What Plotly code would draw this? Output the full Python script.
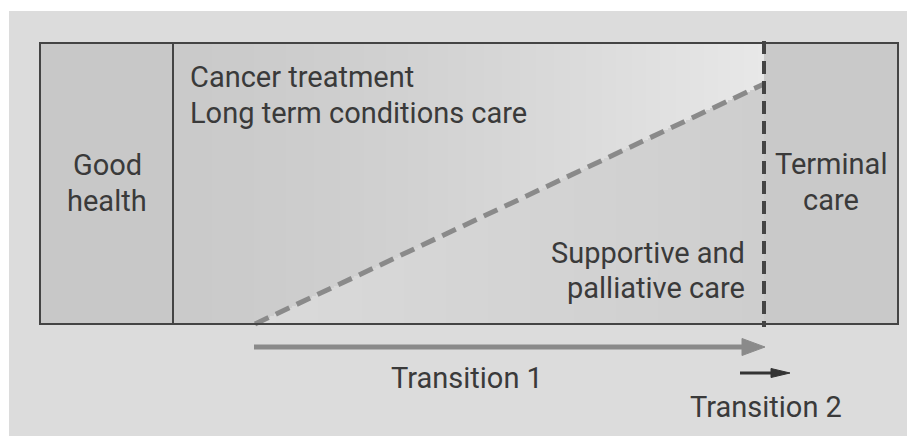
import numpy as np
import plotly.graph_objects as go

# ---- diagram content (timeline units on x, depth units on y) ----
stage_labels = ["Good", "health", "Cancer treatment", "Long term conditions care",
                "Supportive and", "palliative care", "Terminal", "care"]
stage_edges = [40, 173, 764, 898]          # left box edge, good-health divider, transition-2 line, right edge
box_top, box_bottom = 43, 324
diag_x = [255, 764]                         # supportive/palliative care boundary
diag_y = [324, 84]
t1_x = [254, 765]                           # Transition 1 arrow span
t2_x = [740, 790]                           # Transition 2 arrow span
transition_labels = ["Transition 1", "Transition 2"]

# ---- grey levels (style) ----
upper_left, upper_right = 202, 232
lower_left, lower_right = 218, 206

fig = go.Figure()

# background panel
fig.add_shape(type="rect", x0=9, x1=916, y0=11, y1=437, line_width=0,
              fillcolor="#dcdcdc", layer="below")
# good health + terminal care panels
fig.add_shape(type="rect", x0=stage_edges[0], x1=stage_edges[1], y0=box_top, y1=box_bottom,
              line_width=0, fillcolor="#c8c8c8", layer="below")
fig.add_shape(type="rect", x0=stage_edges[2], x1=stage_edges[3], y0=box_top, y1=box_bottom,
              line_width=0, fillcolor="#c9c9c9", layer="below")

# middle region gradients via heatmap
xs = np.arange(stage_edges[1], stage_edges[2] + 1, 2.0)
ys = np.arange(box_top, box_bottom + 1, 2.0)
X, Y = np.meshgrid(xs, ys)
frac = (X - stage_edges[1]) / (stage_edges[2] - stage_edges[1])
upper = upper_left + (upper_right - upper_left) * frac ** 1.5
dfrac = np.clip((X - diag_x[0]) / (diag_x[1] - diag_x[0]), 0, 1)
lower = lower_left + (lower_right - lower_left) * dfrac
line_y = diag_y[0] + (diag_y[1] - diag_y[0]) * (X - diag_x[0]) / (diag_x[1] - diag_x[0])
below = (X >= diag_x[0]) & (Y >= line_y)
Z = np.where(below, lower, upper)
fig.add_trace(go.Heatmap(x=xs, y=ys, z=Z, zmin=0, zmax=255,
                         colorscale=[[0, "rgb(0,0,0)"], [1, "rgb(255,255,255)"]],
                         showscale=False, hoverinfo="skip", zsmooth=False))

# box outline and divider
fig.add_shape(type="rect", x0=stage_edges[0], x1=stage_edges[3], y0=box_top, y1=box_bottom,
              line=dict(color="#444444", width=2), fillcolor="rgba(0,0,0,0)")
fig.add_shape(type="line", x0=stage_edges[1], x1=stage_edges[1], y0=box_top, y1=box_bottom,
              line=dict(color="#444444", width=2))

# diagonal dashed line
fig.add_trace(go.Scatter(x=diag_x, y=diag_y, mode="lines",
                         line=dict(color="#8a8a8a", width=5, dash="15px,8px"),
                         hoverinfo="skip", showlegend=False))
# vertical dashed line (transition 2)
fig.add_trace(go.Scatter(x=[stage_edges[2], stage_edges[2]], y=[41, 327], mode="lines",
                         line=dict(color="#444444", width=4, dash="13px,7px"),
                         hoverinfo="skip", showlegend=False))

# Transition 1 arrow
fig.add_trace(go.Scatter(x=[t1_x[0], t1_x[1] - 22], y=[347, 347], mode="lines",
                         line=dict(color="#8a8a8a", width=5), hoverinfo="skip", showlegend=False))
fig.add_trace(go.Scatter(x=[t1_x[1] - 23, t1_x[1], t1_x[1] - 23, t1_x[1] - 23],
                         y=[338.5, 347, 355.5, 338.5], mode="lines", fill="toself",
                         fillcolor="#8a8a8a", line=dict(color="#8a8a8a", width=1),
                         hoverinfo="skip", showlegend=False))
# Transition 2 arrow
fig.add_trace(go.Scatter(x=[t2_x[0], t2_x[1] - 18], y=[373, 373], mode="lines",
                         line=dict(color="#333333", width=3), hoverinfo="skip", showlegend=False))
fig.add_trace(go.Scatter(x=[t2_x[1] - 19, t2_x[1], t2_x[1] - 19, t2_x[1] - 19],
                         y=[368.5, 373, 377.5, 368.5], mode="lines", fill="toself",
                         fillcolor="#333333", line=dict(color="#333333", width=1),
                         hoverinfo="skip", showlegend=False))

font = dict(family="Roboto", size=29, color="#3a3a3a")

def label(text, x, y, anchor):
    fig.add_annotation(x=x, y=y, text=text, showarrow=False, xanchor=anchor,
                       yanchor="middle", font=font)

label(stage_labels[0], 107, 165, "center")
label(stage_labels[1], 107, 201, "center")
label(stage_labels[2], 188, 77, "left")
label(stage_labels[3], 188, 113, "left")
label(stage_labels[4], 747, 253, "right")
label(stage_labels[5], 747, 288, "right")
label(stage_labels[6], 831, 164, "center")
label(stage_labels[7], 831, 200, "center")
label(transition_labels[0], 467, 378, "center")
label(transition_labels[1], 766, 407, "center")

# page body has an 8px margin: make the plot area cover page pixels 8..915 / 8..436
fig.update_layout(width=907, height=428, margin=dict(l=0, r=0, t=0, b=0),
                  paper_bgcolor="white", plot_bgcolor="white", showlegend=False,
                  xaxis=dict(range=[8, 915], visible=False, fixedrange=True),
                  yaxis=dict(range=[436, 8], visible=False, fixedrange=True))

fig.write_html("out.html")
